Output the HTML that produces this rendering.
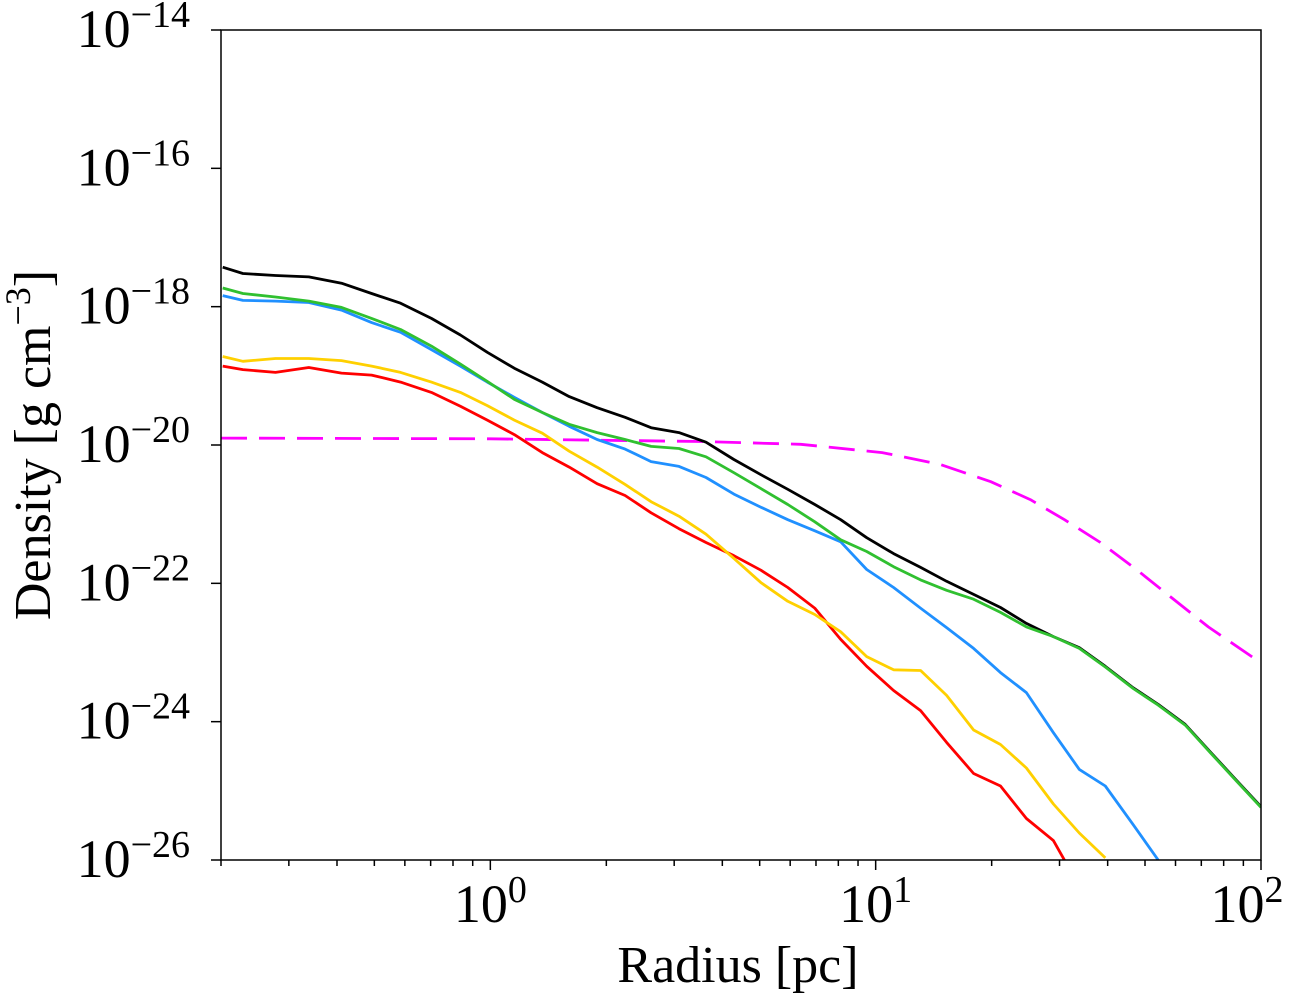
<!DOCTYPE html>
<html><head><meta charset="utf-8"><style>
html,body{margin:0;padding:0;background:#fff;}
svg{display:block;}
text{font-family:"Liberation Serif","Times New Roman",Times,serif;}
</style></head><body>
<svg id="chart" width="1300" height="1000" viewBox="0 0 1300 1000" xmlns="http://www.w3.org/2000/svg" font-family="Liberation Serif, Times New Roman, serif">
<defs><clipPath id="clip"><rect x="221" y="30" width="1040" height="830"/></clipPath></defs>
<g id="series" clip-path="url(#clip)"></g>
<rect x="221" y="30" width="1040" height="830" fill="none" stroke="#000" stroke-width="1.5"/>
<g id="axes"></g>
<text x="738" y="982" font-family="Liberation Serif, serif" font-size="52" text-anchor="middle">Radius [pc]</text>
<text transform="translate(50,445) rotate(-90)" font-family="Liberation Serif, serif" font-size="52" text-anchor="middle">Density [g cm<tspan dy="-20" font-size="36">−3</tspan><tspan dy="20">]</tspan></text>
</svg>
<script>
const radii = [0.202,0.228,0.277,0.338,0.411,0.492,0.585,0.703,0.836,0.982,1.154,1.364,1.602,1.893,2.237,2.613,3.088,3.628,4.287,5.036,5.916,6.95,8.115,9.48,11.13,13.08,15.28,17.95,21.08,24.62,28.92,33.77,39.44,46.6,54.11,63.56,74.23,86.14,100];
const logRhoBlack = [-17.43,-17.52,-17.55,-17.57,-17.66,-17.81,-17.95,-18.17,-18.41,-18.66,-18.89,-19.09,-19.30,-19.46,-19.60,-19.75,-19.82,-19.96,-20.21,-20.43,-20.64,-20.86,-21.08,-21.34,-21.57,-21.77,-21.97,-22.16,-22.35,-22.58,-22.77,-22.93,-23.20,-23.51,-23.75,-24.04,-24.45,-24.84,-25.23];
const logRhoGreen = [-17.73,-17.81,-17.86,-17.92,-18.01,-18.17,-18.33,-18.57,-18.83,-19.08,-19.34,-19.53,-19.70,-19.82,-19.92,-20.02,-20.05,-20.17,-20.40,-20.63,-20.86,-21.11,-21.37,-21.54,-21.76,-21.95,-22.10,-22.23,-22.42,-22.63,-22.77,-22.94,-23.21,-23.52,-23.76,-24.05,-24.46,-24.85,-25.24];
const logRhoBlue = [-17.84,-17.91,-17.92,-17.94,-18.05,-18.23,-18.37,-18.62,-18.86,-19.09,-19.31,-19.53,-19.73,-19.92,-20.06,-20.24,-20.31,-20.47,-20.71,-20.90,-21.08,-21.24,-21.40,-21.80,-22.06,-22.36,-22.64,-22.94,-23.29,-23.58,-24.16,-24.69,-24.93,-25.49,-26.00];
const logRhoYellow = [-18.72,-18.79,-18.75,-18.75,-18.78,-18.86,-18.95,-19.09,-19.24,-19.43,-19.64,-19.83,-20.09,-20.32,-20.57,-20.82,-21.03,-21.29,-21.64,-21.99,-22.26,-22.45,-22.70,-23.06,-23.25,-23.26,-23.62,-24.12,-24.33,-24.67,-25.19,-25.61,-25.97];
const logRhoRed = [-18.86,-18.91,-18.95,-18.88,-18.96,-18.99,-19.09,-19.24,-19.44,-19.64,-19.85,-20.11,-20.32,-20.56,-20.73,-20.98,-21.21,-21.41,-21.60,-21.81,-22.06,-22.36,-22.81,-23.20,-23.55,-23.84,-24.30,-24.75,-24.93,-25.40,-25.72,-26.38];
const modelRadii = [0.2,1,3.52,6.39,10.4,14.7,19.9,25.2,30.9,38.3,47.5,58.1,73.0,100];
const modelLogRho = [-19.90,-19.91,-19.95,-19.99,-20.11,-20.28,-20.53,-20.79,-21.08,-21.41,-21.80,-22.19,-22.63,-23.15];
const xTickExps = [0,1,2];
const yTickExps = [-14,-16,-18,-20,-22,-24,-26];

const X0=221,X1=1261,Y0=30,Y1=860;
const xMinL=Math.log10(0.2), xMaxL=2, yMinL=-26, yMaxL=-14;
const sx = r => X0 + (Math.log10(r)-xMinL)/(xMaxL-xMinL)*(X1-X0);
const sy = L => Y1 - (L-yMinL)/(yMaxL-yMinL)*(Y1-Y0);
const NS="http://www.w3.org/2000/svg";
const series=document.getElementById('series');
const axes=document.getElementById('axes');
function mk(tag,parent){const e=document.createElementNS(NS,tag);parent.appendChild(e);return e;}

function drawLine(xs,ys,color,name,dash){
  const p=mk('polyline',series);
  p.setAttribute('points',ys.map((v,i)=>sx(xs[i]).toFixed(1)+','+sy(v).toFixed(1)).join(' '));
  p.setAttribute('fill','none');p.setAttribute('stroke',color);p.setAttribute('stroke-width','2.8');
  p.setAttribute('stroke-linejoin','round');
  if(dash)p.setAttribute('stroke-dasharray',dash);
  
  
}
drawLine(modelRadii,modelLogRho,'#ff00ff','model-profile-dashed','26,12');
drawLine(radii,logRhoRed,'#ff0000','profile-red');
drawLine(radii,logRhoYellow,'#ffd000','profile-yellow');
drawLine(radii,logRhoBlue,'#2090ff','profile-blue');
drawLine(radii,logRhoBlack,'#000000','profile-black');
drawLine(radii,logRhoGreen,'#30c030','profile-green');

function tick(x1,y1,x2,y2,name){const t=mk('line',axes);t.setAttribute('x1',x1);t.setAttribute('y1',y1);t.setAttribute('x2',x2);t.setAttribute('y2',y2);t.setAttribute('stroke','#000');t.setAttribute('stroke-width','1.5');
  
  }
function label(x,y,exp,anchor,name){
  const t=mk('text',axes);t.setAttribute('x',x);t.setAttribute('y',y);t.setAttribute('font-size','54');t.setAttribute('text-anchor',anchor);
  t.setAttribute('font-family','Liberation Serif, serif');
  
  
  const a=mk('tspan',t);a.textContent='10';
  const b=mk('tspan',t);b.setAttribute('dy','-20');b.setAttribute('font-size','38');b.textContent=(exp<0?'−'+(-exp):String(exp));
}
for(let d=-1;d<=2;d++){for(let m=1;m<10;m++){const r=m*Math.pow(10,d);if(r<0.2||r>100)continue;const x=sx(r);
  if(m===1)tick(x,Y1,x,Y1+10,'x-major-tick');else tick(x,Y1,x,Y1+6,'x-minor-tick');}}
xTickExps.forEach(e=>{label(sx(Math.pow(10,e))+(e===2?-14:0),922,e,'middle','x-tick-label');});
yTickExps.forEach(e=>{const y=sy(e);tick(X0-10,y,X0,y,'y-major-tick');label(190,y+17,e,'end','y-tick-label');});
</script>
</body></html>
